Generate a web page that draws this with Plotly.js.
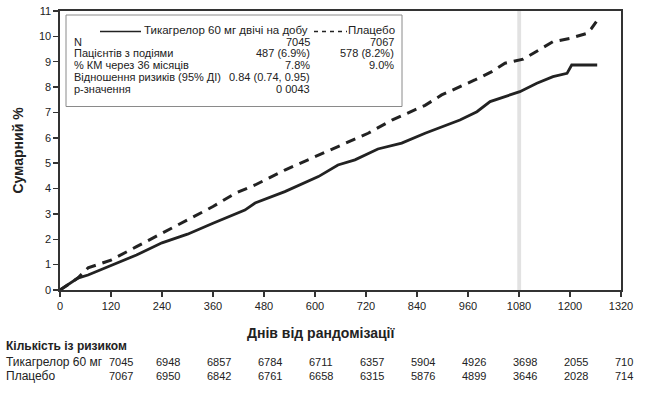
<!DOCTYPE html>
<html>
<head>
<meta charset="utf-8">
<script src="https://cdn.plot.ly/plotly-3.0.1.min.js"></script>
<style>html,body{margin:0;padding:0;background:#fff;}#chart{width:653px;height:396px;}</style>
</head>
<body>
<div id="chart"></div>
<script>
// ---- data ----
const ticaDays = [0, 42, 66, 120, 180, 240, 300, 360, 435, 459, 529, 608, 654, 694, 748, 804, 859, 941, 981, 1012, 1052, 1082, 1122, 1160, 1193, 1204, 1264];
const ticaPct  = [0, 0.47, 0.59, 0.95, 1.38, 1.86, 2.2, 2.63, 3.15, 3.43, 3.88, 4.47, 4.93, 5.13, 5.56, 5.79, 6.18, 6.7, 7.03, 7.43, 7.65, 7.82, 8.15, 8.41, 8.54, 8.87, 8.87];
const placDays = [0, 42, 66, 120, 180, 240, 300, 360, 412, 459, 529, 608, 671, 725, 781, 859, 898, 937, 976, 1016, 1047, 1090, 1125, 1160, 1200, 1240, 1250, 1262];
const placPct  = [0, 0.47, 0.87, 1.18, 1.71, 2.24, 2.76, 3.29, 3.81, 4.14, 4.73, 5.32, 5.78, 6.18, 6.7, 7.28, 7.69, 7.98, 8.28, 8.61, 8.94, 9.1, 9.46, 9.79, 9.92, 10.12, 10.3, 10.58];

const xTicks = [0, 120, 240, 360, 480, 600, 720, 840, 960, 1080, 1200, 1320];
const yTicks = [0, 1, 2, 3, 4, 5, 6, 7, 8, 9, 10, 11];

const riskDays = [0, 120, 240, 360, 480, 600, 720, 840, 960, 1080, 1200];
const riskTica = ["7045", "6948", "6857", "6784", "6711", "6357", "5904", "4926", "3698", "2055", "710"];
const riskPlac = ["7067", "6950", "6842", "6761", "6658", "6315", "5876", "4899", "3646", "2028", "714"];

const nameTica = "Тикагрелор 60 мг двічі на добу";
const namePlac = "Плацебо";
const statLabels = ["N", "Пацієнтів з подіями", "% КМ через 36 місяців", "Відношення ризиків (95% ДІ)", "p-значення"];
const statTica = ["7045", "487 (6.9%)", "7.8%", "0.84 (0.74, 0.95)", "0 0043"];
const statPlac = ["7067", "578 (8.2%)", "9.0%", "", ""];

const riskTitle = "Кількість із ризиком";
const riskRowNames = ["Тикагрелор 60 мг", "Плацебо"];
const xTitle = "Днів від рандомізації";
const yTitle = "Сумарний %";

// ---- layout geometry (pixels) ----
const W = 653, H = 396;
const M = {l: 60, r: 32, t: 11, b: 106};
const XMAX = 1320;
const pw = W - M.l - M.r, ph = H - M.t - M.b;
const px = x => (x - M.l) / pw;     // pixel -> paper x
const py = y => (H - M.b - y) / ph; // pixel -> paper y
const dayToPaper = d => d / XMAX;   // x-axis scale (range 0..XMAX) -> paper

const FONT = "Liberation Sans, Arial, sans-serif";
const INK = "#222";

const traces = [
  {x: ticaDays, y: ticaPct, type: "scatter", mode: "lines", name: nameTica,
   line: {color: INK, width: 2.8, shape: "linear"}, showlegend: false},
  {x: placDays, y: placPct, type: "scatter", mode: "lines", name: namePlac,
   line: {color: INK, width: 3, dash: "10px,7px", shape: "linear"}, showlegend: false}
];

const shapes = [
  {type: "rect", xref: "x", yref: "y", x0: 1076, x1: 1085, y0: 0, y1: 11,
   fillcolor: "#e2e2e2", line: {width: 0}, layer: "below"},
  {type: "rect", xref: "paper", yref: "paper", x0: px(66), x1: px(402), y0: py(106.5), y1: py(15),
   fillcolor: "rgba(255,255,255,0)", line: {color: "#8a8a8a", width: 1}},
  {type: "line", xref: "paper", yref: "paper", x0: px(100), x1: px(141), y0: py(31.5), y1: py(31.5),
   line: {color: INK, width: 1.6}},
  {type: "line", xref: "paper", yref: "paper", x0: px(314), x1: px(347), y0: py(31.5), y1: py(31.5),
   line: {color: INK, width: 1.6, dash: "4px,4px"}}
];

const ann = [];
const txt = (x, y, text, anchor, size, bold) => ann.push({
  xref: "paper", yref: "paper", x: px(x), y: py(y), text: bold ? "<b>" + text + "</b>" : text,
  showarrow: false, xanchor: anchor, yanchor: "middle",
  font: {family: FONT, size: size, color: INK}
});
// legend / stats box
txt(142, 30, nameTica, "left", 11.5);
txt(396.5, 30, namePlac, "right", 11.5);
const rowY = [41.7, 53.3, 65, 76.7, 89.3];
statLabels.forEach((s, i) => {
  txt(72, rowY[i], s, "left", 11);
  txt(311.5, rowY[i], statTica[i], "right", 11);
  if (statPlac[i]) txt(396, rowY[i], statPlac[i], "right", 11);
});
// risk table
txt(4, 345.5, riskTitle, "left", 12, true);
txt(4, 362, riskRowNames[0], "left", 12);
txt(4, 376.5, riskRowNames[1], "left", 12);
riskDays.forEach((d, i) => {
  const off = i === 0 ? 176 : (i === riskDays.length - 1 ? 153 : 167);
  const xp = dayToPaper(d + off);
  ann.push({xref: "paper", yref: "paper", x: xp, y: py(362), text: riskTica[i], showarrow: false,
    xanchor: "right", yanchor: "middle", font: {family: FONT, size: 11, color: INK}});
  ann.push({xref: "paper", yref: "paper", x: xp, y: py(376.5), text: riskPlac[i], showarrow: false,
    xanchor: "right", yanchor: "middle", font: {family: FONT, size: 11, color: INK}});
});
// x axis title (placed as in reference, slightly left of center)
txt(321, 333, xTitle, "center", 14, true);

const layout = {
  width: W, height: H,
  margin: M,
  paper_bgcolor: "#fff", plot_bgcolor: "#fff",
  font: {family: FONT, size: 11, color: INK},
  showlegend: false,
  xaxis: {
    range: [0, XMAX], tickvals: xTicks, ticktext: xTicks.map(String),
    showgrid: false, zeroline: false, showline: true, mirror: true,
    linecolor: "#333", linewidth: 1.6, ticks: "outside", ticklen: 5, tickwidth: 1.4, tickcolor: "#333",
    tickfont: {family: FONT, size: 11, color: INK}
  },
  yaxis: {
    range: [0, 11], tickvals: yTicks, ticktext: yTicks.map(String),
    showgrid: false, zeroline: false, showline: true, mirror: true,
    linecolor: "#333", linewidth: 1.6, ticks: "outside", ticklen: 5, tickwidth: 1.4, tickcolor: "#333",
    tickfont: {family: FONT, size: 11, color: INK},
    title: {text: "<b>" + yTitle + "</b>", font: {family: FONT, size: 14, color: INK}, standoff: 12}
  },
  shapes: shapes,
  annotations: ann
};

Plotly.newPlot("chart", traces, layout, {displayModeBar: false, staticPlot: true});
</script>
</body>
</html>
